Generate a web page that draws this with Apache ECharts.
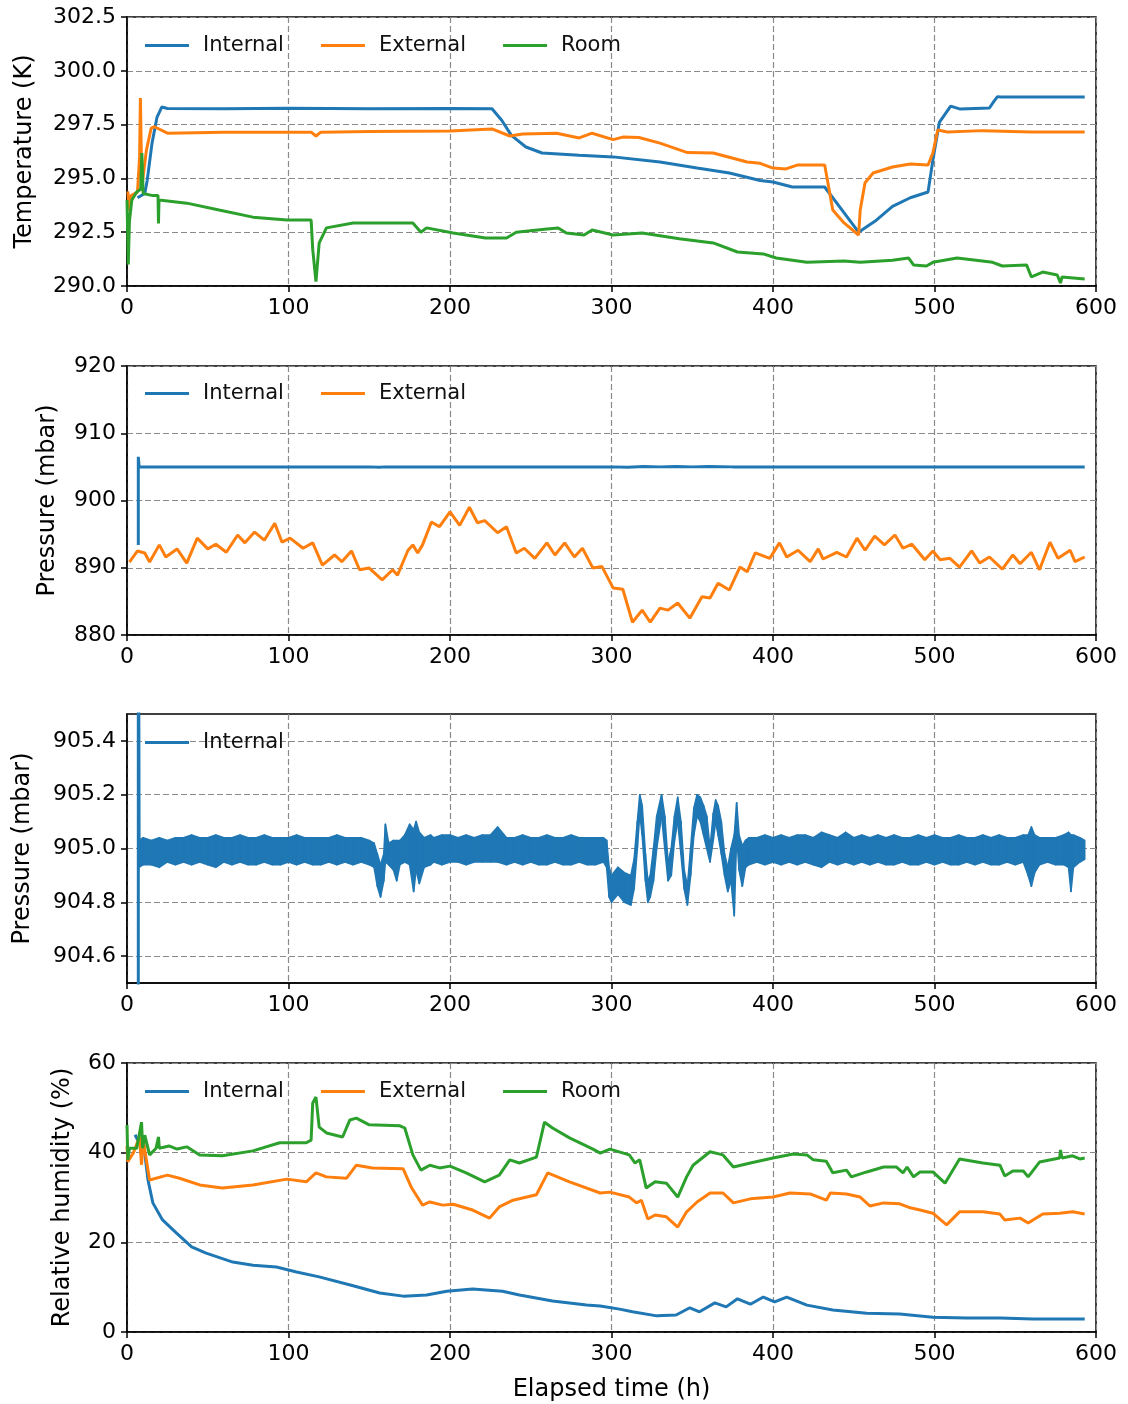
<!DOCTYPE html>
<html>
<head>
<meta charset="utf-8">
<title>Temperature, pressure and humidity</title>
<script src="https://cdn.jsdelivr.net/npm/echarts@6/dist/echarts.min.js"></script>
<style>
  html, body { margin: 0; padding: 0; background: #fff; }
  #main { width: 1128px; height: 1404px; }
</style>
</head>
<body>
<div id="main"></div>
<script>
// [elapsed time (h), value]
const tempInternal = [
  [6.5,294.1],[11,294.3],[12.5,294.9],[15.5,296.64],[18.6,297.85],[21.6,298.32],[25,298.25],[60,298.24],
  [100,298.26],[150,298.24],[200,298.25],[226,298.24],[232,297.7],[238,297.0],[247,296.46],[257,296.18],
  [280,296.08],[301,296.0],[330,295.76],[353,295.48],[373,295.25],[392,294.9],[400,294.83],[412,294.6],
  [432,294.6],[443,293.5],[453,292.5],[458,292.75],[464,293.06],[474,293.7],[485,294.1],[496,294.37],
  [499,295.85],[503,297.6],[510,298.36],[516,298.22],[534,298.27],[537,298.6],[539,298.8],[541,298.78],
  [570,298.78],[593,298.78]
]
const tempExternal = [
  [0.5,294.4],[1.5,293.5],[2.5,294.2],[6.5,294.37],[7.8,296.0],[8.3,298.74],[9.2,294.6],[12,296.3],
  [15,297.34],[17,297.4],[25,297.1],[60,297.15],[100,297.15],[114,297.15],[117,296.97],[120,297.15],
  [150,297.18],[200,297.2],[226,297.3],[237,296.97],[245,297.06],[266,297.1],[280,296.88],[288,297.1],
  [301,296.8],[307,296.92],[317,296.9],[330,296.64],[347,296.2],[363,296.18],[384,295.76],[392,295.7],
  [400,295.48],[408,295.44],[415,295.62],[432,295.62],[434,294.8],[437,293.53],[444,292.93],[453,292.37],
  [454,293.53],[457,294.8],[462,295.25],[474,295.53],[485,295.67],[496,295.62],[499,296.18],[502,297.25],
  [508,297.16],[530,297.22],[560,297.16],[593,297.16]
]
const tempRoom = [
  [0,294.0],[0.8,291.0],[1.5,293.0],[3,294.0],[6,294.37],[8.5,294.5],[9.2,296.18],[10,294.3],[16,294.2],
  [19.2,294.2],[19.5,292.9],[19.8,294.0],[37,293.85],[57,293.53],[78,293.2],[99,293.07],[114,293.07],
  [115,291.7],[117,290.2],[119,292.0],[123.5,292.7],[140,292.93],[160,292.93],[177,292.93],[182,292.5],
  [185.5,292.7],[202,292.46],[222,292.23],[235,292.23],[241,292.5],[260,292.65],[267,292.7],[272,292.46],
  [283,292.37],[288,292.6],[301,292.37],[319,292.46],[342,292.2],[363,292.0],[378,291.58],[394,291.49],
  [402,291.3],[421,291.1],[444,291.16],[454,291.1],[474,291.2],[484,291.3],[487,290.98],[495,290.93],
  [499,291.1],[514,291.3],[536,291.1],[542,290.93],[557,290.98],[560,290.42],[567,290.65],[576,290.51],
  [578,290.14],[579,290.42],[593,290.33]
]

const pressureInternal = [
  [7,893.4],[7,906.5],[7.5,905.0],[150,905.0],[156,904.95],[160,905.0],[300,905.0],[310,904.95],
  [320,905.05],[330,905.0],[340,905.05],[350,905.0],[360,905.05],[375,905.0],[593,905.0]
]
const pressureExternal = [
  [1.5,890.85],[6.5,892.5],[11,892.2],[14,890.85],[20,893.4],[24,891.6],[31,892.8],[37,890.7],[43.5,894.4],
  [50,892.8],[55,893.5],[61.5,892.3],[68.5,894.87],[73,893.7],[79,895.3],[85,894.1],[91.5,896.6],[96,893.8],
  [101,894.4],[109,892.9],[115,893.7],[121,890.4],[128.5,891.9],[133,890.9],[139,892.5],[144,889.7],
  [150,889.95],[158,888.2],[164.5,889.7],[167.5,888.9],[174,892.6],[177,893.4],[180,892.2],[183,893.4],
  [188.5,896.8],[193.5,896.1],[200,898.3],[206,896.3],[212,899.0],[217,896.7],[221.5,897.0],[229.5,895.2],
  [235,896.1],[241,892.2],[246,892.9],[252.5,891.4],[260,893.7],[265,891.9],[271,893.7],[277,891.6],
  [282,892.9],[288.5,889.95],[294,890.2],[301,887.0],[307,886.8],[313,881.9],[319,883.7],[324,881.9],
  [330,884.0],[335,883.7],[341,884.75],[348.5,882.5],[356,885.7],[361,885.5],[366,887.7],[373,886.7],
  [379.5,890.1],[384,889.4],[389,892.2],[398,891.4],[404,893.7],[408.5,891.6],[415.5,892.6],[423,890.9],
  [428,892.8],[431,891.3],[439.5,892.3],[445.5,891.6],[452,894.4],[457,892.6],[463,894.7],[469,893.4],
  [475.5,894.87],[480.5,892.9],[486,893.5],[494,891.2],[499,892.5],[503.5,891.2],[509.5,891.4],
  [515.5,890.1],[523,892.5],[528,890.7],[534,891.6],[542,889.8],[548.5,891.9],[553,890.6],[560,892.3],
  [565,889.7],[571.5,893.8],[576.5,891.4],[584,892.6],[587,890.9],[593,891.6]
]

// zoomed internal pressure: [time, upper edge, lower edge] of the noisy trace
const pressureBand = [
  [7.5,905.03,904.93],[10,905.04,904.94],[15,905.03,904.94],[20,905.04,904.93],[25,905.03,904.95],
  [30,905.04,904.94],[35,905.04,904.95],[40,905.05,904.94],[45,905.04,904.95],[50,905.04,904.94],
  [55,905.05,904.93],[60,905.04,904.95],[65,905.04,904.94],[70,905.05,904.95],[75,905.04,904.94],
  [80,905.04,904.94],[85,905.05,904.95],[90,905.04,904.94],[95,905.04,904.94],[100,905.04,904.95],
  [105,905.05,904.94],[110,905.04,904.95],[115,905.04,904.94],[120,905.04,904.94],[125,905.04,904.95],
  [130,905.05,904.94],[135,905.04,904.95],[140,905.04,904.94],[145,905.04,904.95],[150,905.03,904.94],
  [153,905.02,904.93],[155,904.98,904.86],[157,904.94,904.82],[159,904.98,904.88],[160,905.09,904.95],
  [162,905.02,904.94],[165,905.03,904.92],[167,905.03,904.88],[169,905.03,904.94],[172,905.05,904.95],
  [175,905.09,904.94],[177.5,905.07,904.84],[179,905.10,904.92],[181,905.06,904.87],[184,905.04,904.93],
  [188,905.05,904.94],[190,905.04,904.95],[195,905.05,904.94],[200,905.05,904.95],[205,905.04,904.95],
  [210,905.05,904.94],[215,905.04,904.95],[220,905.05,904.95],[225,905.05,904.95],[229.5,905.08,904.95],
  [235,905.04,904.94],[240,905.04,904.95],[245,905.05,904.94],[250,905.04,904.95],[255,905.04,904.94],
  [260,905.05,904.94],[265,905.04,904.95],[270,905.04,904.94],[275,905.05,904.94],[280,905.04,904.95],
  [285,905.04,904.94],[290,905.04,904.94],[295,905.04,904.95],[297,905.03,904.93],[298.5,904.93,904.82],
  [300,904.90,904.80],[304,904.93,904.83],[308,904.91,904.80],[312,904.90,904.79],[314,904.96,904.85],
  [316,905.10,905.00],[317.5,905.20,905.13],[319,905.16,905.05],[321,904.98,904.88],[322.5,904.88,904.80],
  [324,904.90,904.82],[326,905.00,904.88],[328,905.12,905.00],[331,905.20,905.12],[333,905.12,905.00],
  [335,904.95,904.88],[337,905.00,904.90],[339,905.12,905.03],[341,905.19,905.10],[343,905.10,904.98],
  [345,904.92,904.85],[347,904.86,904.79],[349,905.00,904.90],[351,905.15,905.05],[353,905.20,905.12],
  [355,905.19,905.10],[357,905.16,905.05],[359,905.12,905.00],[361,905.00,904.95],[363,905.13,905.03],
  [364.5,905.18,905.10],[366,905.16,905.05],[368,905.10,904.98],[370,904.98,904.90],[372,904.93,904.84],
  [374,905.00,904.88],[376,905.05,904.75],[377.5,905.17,905.05],[379,905.05,904.92],[381,905.01,904.86],
  [383,905.03,904.93],[385,905.04,904.94],[390,905.04,904.95],[395,905.05,904.94],[400,905.04,904.95],
  [405,905.05,904.94],[410,905.04,904.95],[415,905.05,904.94],[420,905.05,904.95],[425,905.04,904.94],
  [430,905.06,904.93],[435,905.05,904.95],[440,905.04,904.94],[445,905.06,904.95],[450,905.04,904.94],
  [455,905.05,904.95],[460,905.04,904.94],[465,905.05,904.95],[470,905.04,904.94],[475,905.05,904.94],
  [480,905.04,904.95],[485,905.04,904.94],[490,905.05,904.94],[495,905.04,904.95],[500,905.05,904.94],
  [505,905.04,904.95],[510,905.04,904.94],[515,905.05,904.94],[520,905.04,904.95],[525,905.04,904.94],
  [530,905.05,904.95],[535,905.04,904.94],[540,905.05,904.94],[545,905.04,904.95],[550,905.04,904.94],
  [555,905.05,904.95],[558,905.05,904.90],[560,905.08,904.86],[562,905.05,904.91],[565,905.04,904.94],
  [570,905.04,904.95],[575,905.04,904.94],[580,905.05,904.94],[583,905.06,904.93],[584.5,905.05,904.84],
  [586,905.05,904.93],[590,905.04,904.95],[593,905.03,904.96]
]

const humInternal = [
  [5,44.0],[7,42.5],[10,42.8],[13,33.9],[16,28.8],[22,25.0],[30.5,22.1],[40,19.0],[49,17.6],[65.5,15.6],
  [78,14.9],[92.5,14.5],[105,13.4],[119,12.3],[140,10.3],[156.5,8.7],[171,8.0],[185.5,8.25],[198,9.1],
  [214,9.6],[232.5,9.1],[243,8.25],[263.5,6.9],[284.5,6.0],[293,5.8],[305,5.1],[313,4.5],[328,3.6],
  [340,3.8],[348.5,5.4],[354.5,4.5],[364,6.5],[371,5.6],[378,7.4],[386,6.2],[394,7.8],[401,6.7],
  [408.5,7.8],[421,6.0],[437,4.9],[458,4.2],[478.5,4.0],[499,3.3],[520,3.1],[540.5,3.1],[561,2.9],[593,2.9]
]
const humExternal = [
  [0,41.5],[0.5,38.0],[1.5,38.4],[4,40.0],[7.7,43.5],[9,37.3],[10,42.8],[14,33.9],[25,35.0],[32.5,34.3],
  [45,32.8],[59,32.1],[78,32.8],[99,34.1],[111,33.5],[117,35.5],[123.5,34.6],[136,34.3],[142,37.2],
  [152,36.6],[171,36.4],[176,32.3],[183,28.3],[187.5,29.0],[195.5,28.3],[202,28.5],[214,27.2],[224.5,25.4],
  [230.5,27.9],[239,29.4],[253.5,30.6],[260.5,35.5],[274,33.5],[293,31.0],[299,31.2],[311,30.1],
  [315.5,28.8],[318.5,29.4],[322.5,25.2],[327,26.1],[334,25.7],[341,23.4],[346.5,26.8],[353,29.0],
  [361,31.0],[369,31.0],[375.5,28.8],[386,29.7],[400,30.1],[410.5,31.0],[423,30.8],[433,29.4],[435.5,31.0],
  [445.5,30.8],[454,30.1],[460,28.1],[468.5,28.8],[478.5,28.6],[485,27.7],[491,27.2],[499,26.5],
  [507.5,23.9],[515.5,26.8],[530,26.8],[540.5,26.3],[543.5,25.0],[553,25.4],[558,24.3],[567,26.3],
  [577.5,26.5],[585.5,26.8],[593,26.3]
]
const humRoom = [
  [0,46.2],[0.5,38.4],[1.5,41.0],[6,41.0],[9,46.8],[9.7,41.0],[11,43.9],[14,39.5],[18,41.0],[19.5,43.5],
  [20,41.0],[26,41.5],[31,40.8],[37,41.3],[45,39.5],[59,39.3],[78,40.4],[94.5,42.2],[111,42.2],[114,42.8],
  [115,51.1],[117,52.4],[119,45.7],[123.5,44.4],[133.5,43.5],[138,47.3],[142,47.7],[150,46.2],[169,46.0],
  [172,45.5],[177,39.5],[182,36.1],[187.5,37.2],[193.5,36.6],[200,37.0],[210,35.5],[221.5,33.5],
  [230.5,35.0],[237,38.4],[243,37.7],[253.5,39.0],[258.5,46.8],[263.5,45.5],[274,43.3],[288.5,40.8],
  [293,39.9],[299,40.8],[311,39.5],[314.5,37.7],[317.5,38.4],[321.5,32.1],[327,33.5],[334,33.2],[341,30.1],
  [346.5,34.6],[350.5,37.2],[361,40.2],[369,39.5],[375.5,36.8],[386,37.7],[400,38.8],[412.5,39.7],
  [421,39.5],[425,38.4],[433,38.1],[437,35.5],[445.5,36.1],[448.5,34.6],[458,35.7],[468.5,36.8],
  [476.5,36.8],[480.5,35.5],[483,36.8],[487,34.6],[491,35.7],[499,35.7],[506.5,33.2],[515.5,38.6],
  [530,37.7],[540.5,37.2],[543.5,34.8],[548.5,35.9],[555,35.9],[558,34.6],[565,37.9],[577.5,38.8],
  [578,40.6],[579,38.8],[585.5,39.3],[590,38.6],[593,38.8]
]

const zoomTicks = [904.6, 904.8, 905.0, 905.2, 905.4]

const BLUE = '#1f77b4', ORANGE = '#ff7f0e', GREEN = '#2ca02c'
const FONT = 'DejaVu Sans'
const gridTops = [17, 366, 714, 1063]

const line = (name, data, color, idx, width) => ({
  name: name,
  type: 'line',
  xAxisIndex: idx,
  yAxisIndex: idx,
  data: data,
  symbol: 'none',
  showSymbol: false,
  lineStyle: { color: color, width: width || 3 },
  itemStyle: { color: color },
  animation: false
})

const gridLine = { show: true, lineStyle: { color: '#8a8a8a', width: 1.2, type: [6, 3] } }
const axisLine = { show: true, lineStyle: { color: '#000', width: 1.5 } }
const axisTick = { show: true, length: 6, lineStyle: { color: '#000', width: 1.5 } }

const xAxes = gridTops.map((t, i) => ({
  type: 'value', gridIndex: i, min: 0, max: 600, interval: 100,
  axisLine: axisLine, axisTick: axisTick, splitLine: gridLine,
  axisLabel: { fontFamily: FONT, fontSize: 22, color: '#000', margin: 11 },
  name: i === 3 ? 'Elapsed time (h)' : '',
  nameLocation: 'middle', nameGap: 46,
  nameTextStyle: { fontFamily: FONT, fontSize: 24, color: '#000' }
}))

const yBase = (i, name, gap) => ({
  type: 'value', gridIndex: i, name: name, nameLocation: 'middle', nameGap: gap, nameRotate: 90,
  nameTextStyle: { fontFamily: FONT, fontSize: 24, color: '#000' },
  axisLine: axisLine, axisTick: axisTick, splitLine: gridLine
})
const yAxes = [
  Object.assign(yBase(0, 'Temperature (K)', 90), { min: 290, max: 302.5, interval: 2.5,
    axisLabel: { fontFamily: FONT, fontSize: 22, color: '#000', margin: 11, formatter: v => v.toFixed(1) } }),
  Object.assign(yBase(1, 'Pressure (mbar)', 67), { min: 880, max: 920, interval: 10,
    axisLabel: { fontFamily: FONT, fontSize: 22, color: '#000', margin: 11 } }),
  Object.assign(yBase(2, 'Pressure (mbar)', 92), { min: 904.5, max: 905.5,
    axisTick: Object.assign({ customValues: zoomTicks }, axisTick),
    axisLabel: { fontFamily: FONT, fontSize: 22, color: '#000', margin: 11, customValues: zoomTicks,
      formatter: v => v.toFixed(1) } }),
  Object.assign(yBase(3, 'Relative humidity (%)', 52), { min: 0, max: 60, interval: 20,
    axisLabel: { fontFamily: FONT, fontSize: 22, color: '#000', margin: 11 } })
]

const legend = (top, names) => ({
  data: names, left: 145, top: top, padding: 0, orient: 'horizontal', icon: 'rect',
  itemWidth: 44, itemHeight: 3, itemGap: 37, selectedMode: false,
  textStyle: { fontFamily: FONT, fontSize: 21, color: '#111', padding: [0, 0, 0, 9] }
})

// noisy trace drawn as a filled envelope between its upper and lower edge
const bandSeries = {
  name: 'Internal',
  type: 'custom',
  xAxisIndex: 2,
  yAxisIndex: 2,
  data: pressureBand,
  encode: { x: 0, y: [1, 2] },
  clip: true,
  itemStyle: { color: BLUE },
  animation: false,
  renderItem: (params, api) => {
    const i = params.dataIndex
    const next = pressureBand[i + 1]
    if (!next) return null
    const t = api.value(0), hi = api.value(1), lo = api.value(2)
    const pts = [api.coord([t, hi]), api.coord([next[0], next[1]]), api.coord([next[0], next[2]]), api.coord([t, lo])]
    return {
      type: 'polygon',
      shape: { points: pts },
      style: { fill: BLUE, stroke: BLUE, lineWidth: 1.6, lineJoin: 'round' }
    }
  }
}

const option = {
  backgroundColor: '#fff',
  animation: false,
  grid: gridTops.map(t => ({
    left: 127, right: 32, top: t, height: 269,
    show: true, borderColor: '#000', borderWidth: 1.5
  })),
  legend: [
    legend(gridTops[0] + 18, ['Internal', 'External', 'Room']),
    legend(gridTops[1] + 17, ['Internal', 'External']),
    legend(gridTops[2] + 18, ['Internal']),
    legend(gridTops[3] + 18, ['Internal', 'External', 'Room'])
  ],
  xAxis: xAxes,
  yAxis: yAxes,
  series: [
    line('Internal', tempInternal, BLUE, 0),
    line('External', tempExternal, ORANGE, 0),
    line('Room', tempRoom, GREEN, 0),
    line('Internal', pressureInternal, BLUE, 1),
    line('External', pressureExternal, ORANGE, 1),
    line('spike', pressureInternal.slice(0, 3), BLUE, 2),
    bandSeries,
    line('Internal', humInternal, BLUE, 3),
    line('External', humExternal, ORANGE, 3),
    line('Room', humRoom, GREEN, 3)
  ]
}

const chart = echarts.init(document.getElementById('main'))
chart.setOption(option)
</script>
</body>
</html>
